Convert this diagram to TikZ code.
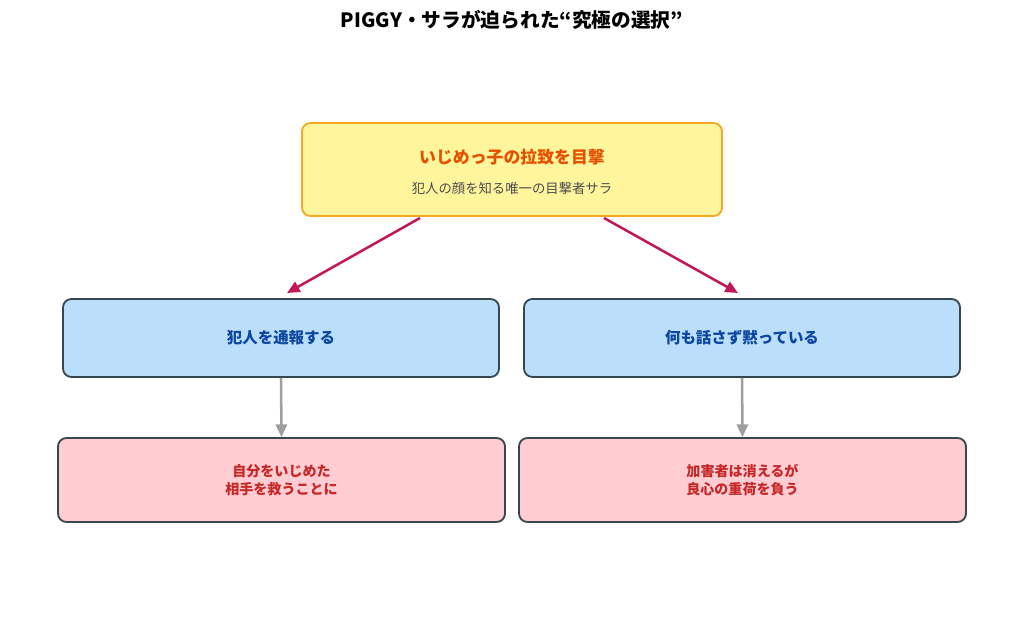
\documentclass[tikz,border=0pt]{standalone}
\usepackage{fontspec}
\setmainfont{Noto Sans CJK JP}
\usetikzlibrary{arrows.meta}
\definecolor{ybox}{HTML}{FFF59D}\definecolor{yedge}{HTML}{F5A623}
\definecolor{otext}{HTML}{E65100}\definecolor{bbox}{HTML}{BBDEFB}
\definecolor{edge}{HTML}{37474F}\definecolor{btext}{HTML}{0D47A1}
\definecolor{pbox}{HTML}{FFCDD2}\definecolor{rtext}{HTML}{C62828}
\definecolor{crim}{HTML}{C2185B}\definecolor{gr}{HTML}{9E9E9E}
\begin{document}
\begin{tikzpicture}[x=0.025cm,y=-0.025cm,
 box/.style={rounded corners=6pt,line width=1.3pt,draw=edge,inner sep=0pt,align=center},
 mid/.style={box,fill=bbox,minimum width=436*0.025cm,minimum height=78*0.025cm,text=btext,font=\fontsize{11}{13}\selectfont\bfseries},
 bot/.style={box,fill=pbox,minimum width=447*0.025cm,minimum height=84*0.025cm,text=rtext,font=\fontsize{10}{13}\selectfont\bfseries},
 ca/.style={-{Triangle[length=9pt,width=8pt]},line width=1.8pt,draw=crim},
 ga/.style={-{Triangle[length=9pt,width=8pt]},line width=1.8pt,draw=gr}]
\useasboundingbox (0,0) rectangle (1024,635);
\node[font=\fontsize{14}{16}\selectfont\bfseries] (title) at (512,20) {PIGGY・サラが迫られた“究極の選択”};
\node[box,draw=yedge,fill=ybox,minimum width=420*0.025cm,minimum height=93*0.025cm] (top) at (512,169.5) {};
\node[text=otext,font=\fontsize{12}{14}\selectfont\bfseries] (tt) at (512,157) {いじめっ子の拉致を目撃};
\node[text=black!70,font=\fontsize{9.5}{11}\selectfont] (ts) at (512,188) {犯人の顔を知る唯一の目撃者サラ};
\node[mid] (ml) at (281,338) {犯人を通報する};
\node[mid] (mr) at (742,338) {何も話さず黙っている};
\node[bot] (bl) at (281.5,480) {自分をいじめた\\相手を救うことに};
\node[bot] (br) at (742.5,480) {加害者は消えるが\\良心の重荷を負う};
\coordinate (a1) at (420,218);\coordinate (a2) at (604,218);
\coordinate (e1) at (287,293);\coordinate (e2) at (738,293);
\draw[ca] (a1) -- (e1);
\draw[ca] (a2) -- (e2);
\draw[ga] (ml.south) -- (bl.north);
\draw[ga] (mr.south) -- (br.north);
\end{tikzpicture}
\end{document}
